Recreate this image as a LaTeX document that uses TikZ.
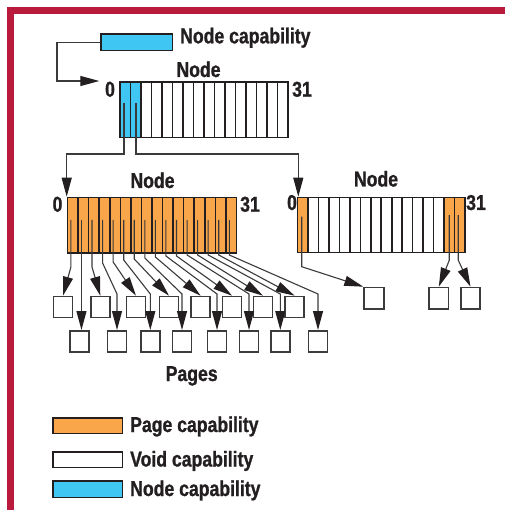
\documentclass[tikz,border=0pt]{standalone}
\usepackage{fontspec}
\newfontfamily\lblfont{Liberation Sans}[FakeStretch=0.82,FakeBold=1]
\usetikzlibrary{arrows.meta,calc}

\definecolor{ink}{HTML}{231F20}
\definecolor{wire}{HTML}{3A3A3A}
\definecolor{capblue}{HTML}{40C6F2}
\definecolor{pageorange}{HTML}{F9A64B}
\definecolor{framered}{HTML}{BA1B3C}
\definecolor{boxgray}{HTML}{3C3C3C}

\tikzset{
  lbl/.style={font=\lblfont\bfseries\fontsize{21.5}{24}\selectfont, text=ink, inner sep=0pt},
  cell/.style={draw=ink, line width=1.6pt, inner sep=0pt, anchor=north west},
  tcell/.style={cell, minimum width=10.5pt, minimum height=55.7pt},
  lcell/.style={cell, minimum width=10.56pt, minimum height=55.6pt, fill=pageorange},
  rcell/.style={cell, minimum width=10.47pt, minimum height=55pt},
  pagebox/.style={draw=boxgray, line width=1.6pt, fill=white, inner sep=0pt,
    anchor=north west, minimum width=19pt, minimum height=21pt},
  legbox/.style={draw=ink, line width=1.5pt, inner sep=0pt, anchor=north west,
    minimum width=69.4pt},
  ptr/.style={draw=wire, line width=1.1pt},
  tip/.style={-{Triangle[length=19pt 0, width=10pt 0, color=ink]}},
  frame/.style={draw=framered, line width=6.7pt}
}

\begin{document}
\begin{tikzpicture}[x=1pt,y=-1pt]
\useasboundingbox (0,0) rectangle (505,510);

% red frame
\draw[frame] (505,10.7) -- (10.7,10.7) -- (10.7,510);

% node capability that points to the root node
\node[legbox, fill=capblue, minimum width=71.7pt, minimum height=16.7pt] (cap) at (100,33.3) {};
\node[lbl, anchor=base west] (capText) at (180,43.3) {Node capability};

% root node: 32 slots drawn as 16 cells
\foreach \i in {0,1}
  \node[tcell, fill=capblue] (T\i) at ({119.3+10.5*\i},81) {};
\foreach \i in {2,...,15}
  \node[tcell, fill=white] (T\i) at ({119.3+10.5*\i},81) {};
\node[lbl, anchor=base] (tName) at (198.5,77) {Node};
\node[lbl, anchor=base] (tZero) at (110,96.7) {0};
\node[lbl, anchor=base] (tLast) at (302,96.7) {31};
\coordinate (tIn) at ($(T0.north west)+(-20,0)$);
\draw[ptr, tip] (cap.west) -- ++(-43,0) |- (tIn);

% left node: all page capabilities
\foreach \i in {0,...,15}
  \node[lcell] (L\i) at ({66.7+10.56*\i},196.7) {};
\node[lbl, anchor=base] (lName) at (152.5,188) {Node};
\node[lbl, anchor=base] (lZero) at (57.5,211.7) {0};
\node[lbl, anchor=base] (lLast) at (250,211.7) {31};

% right node: mostly void, page capabilities at both ends
\foreach \i in {0,14,15}
  \node[rcell, fill=pageorange] (R\i) at ({296.7+10.47*\i},196.7) {};
\foreach \i in {1,...,13}
  \node[rcell, fill=white] (R\i) at ({296.7+10.47*\i},196.7) {};
\node[lbl, anchor=base] (rName) at (376,186.5) {Node};
\node[lbl, anchor=base] (rZero) at (292,210) {0};
\node[lbl, anchor=base] (rLast) at (476,210) {31};

% root node capabilities point to the two child nodes
\coordinate (t0) at ($(T0.north west)+(4.7,22)$);
\coordinate (t1) at ($(T1.north west)+(6.2,22)$);
\coordinate (rIn) at ($(R0.north west)+(1.6,0)$);
\draw[ptr, tip] (t0) -- ++(0,51) -| (L0.north west);
\draw[ptr, tip] (t1) -- ++(0,51) -| (rIn);

% pages of the left node
\foreach \k/\x in {0/52.7,1/90,2/125.7,3/158.7,4/190.3,5/221.7,6/252.7,7/284.3}
  \node[pagebox] (P\k) at (\x,295.7) {};
\foreach \k/\x in {0/69.3,1/106.7,2/140,3/171.7,4/206.7,5/238.7,6/270,7/307.7}
  \node[pagebox] (Q\k) at (\x,330) {};
\node[lbl, anchor=base] (pagesText) at (191.7,381) {Pages};

\foreach \i in {0,...,15}
  \coordinate (l\i) at ($(L\i.north west)+(4.2,23.3)$);
\foreach \i/\k/\d in {0/0/47,2/1/47,4/2/42,6/3/39,8/4/37,10/5/36,12/6/35,14/7/35}
  \draw[ptr, tip] (l\i) -- ++(0,\d) -- (P\k.north);
\draw[ptr, tip] (l1) -- (l1 |- Q0.north);
\foreach \i/\k/\d in {3/1/43,5/2/40,7/3/38,9/4/36,11/5/35,13/6/35,15/7/35}
  \draw[ptr, tip] (l\i) -- ++(0,\d) -- ($(Q\k.north)+(0,-36)$) -- (Q\k.north);

% pages of the right node
\node[pagebox, minimum width=19.6pt, minimum height=21.5pt] (S0) at (363.3,286.7) {};
\node[pagebox, minimum width=19.4pt, minimum height=21.5pt] (S1) at (428.3,286.7) {};
\node[pagebox, minimum width=19.4pt, minimum height=21.5pt] (S2) at (460,286.7) {};
\coordinate (r0) at ($(R0.north west)+(5,20)$);
\coordinate (r14) at ($(R14.north west)+(6,18.5)$);
\coordinate (r15) at ($(R15.north west)+(4.5,18.5)$);
\draw[ptr, tip] (r0) -- ++(0,50) -- (S0.north west);
\draw[ptr, tip] (r14) -- ++(0,45) -- (S1.north);
\draw[ptr, tip] (r15) -- ++(0,45) -- (S2.north);

% legend
\node[legbox, fill=pageorange, minimum height=15.4pt] (legPage) at (52.3,417.3) {};
\node[lbl, anchor=base west] (legPageText) at (130,432) {Page capability};
\node[legbox, fill=white, minimum height=15.7pt] (legVoid) at (52.3,451) {};
\node[lbl, anchor=base west] (legVoidText) at (130,466.5) {Void capability};
\node[legbox, fill=capblue, minimum height=16.7pt] (legNode) at (52.3,480) {};
\node[lbl, anchor=base west] (legNodeText) at (130,496) {Node capability};
\end{tikzpicture}
\end{document}
